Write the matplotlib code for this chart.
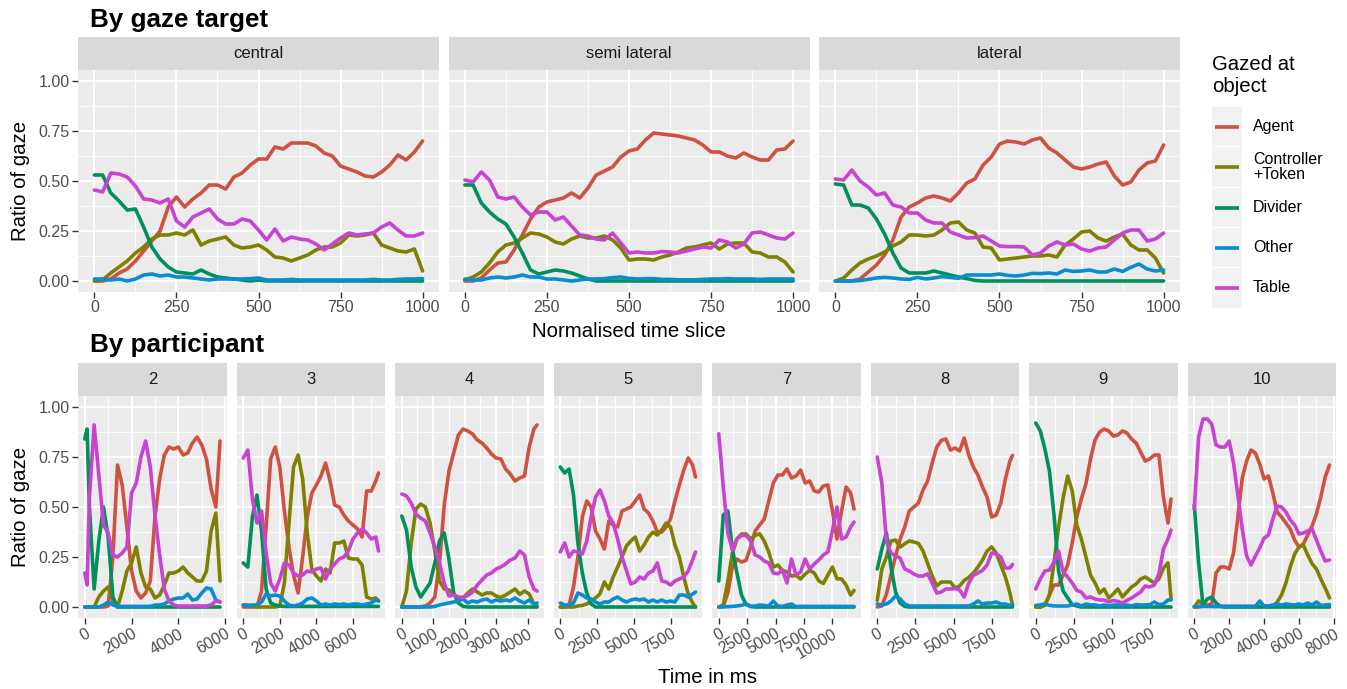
import matplotlib
matplotlib.use("Agg")
import matplotlib.pyplot as plt

plt.rcParams['font.family'] = ['Liberation Sans', 'DejaVu Sans']

# ---------------- DATA ----------------
objects = ["Agent", "Controller\n+Token", "Divider", "Other", "Table"]
gaze_targets = ["central", "semi lateral", "lateral"]
participants = ["2", "3", "4", "5", "7", "8", "9", "10"]

slices = [0, 25, 50, 75, 100, 125, 150, 175, 200, 225, 250, 275, 300, 325, 350, 375, 400,
          425, 450, 475, 500, 525, 550, 575, 600, 625, 650, 675, 700, 725, 750, 775, 800,
          825, 850, 875, 900, 925, 950, 975, 1000]

central_agent = [0, 0, 0.01, 0.04, 0.06, 0.10, 0.15, 0.20, 0.25, 0.37, 0.42, 0.37, 0.41, 0.44, 0.48, 0.48, 0.46,
                 0.52, 0.54, 0.58, 0.61, 0.61, 0.67, 0.66, 0.69, 0.69, 0.69, 0.675, 0.64, 0.625, 0.575, 0.56,
                 0.545, 0.525, 0.52, 0.545, 0.58, 0.63, 0.605, 0.645, 0.70]
central_ctrl = [0, 0.005, 0.04, 0.07, 0.10, 0.14, 0.17, 0.21, 0.23, 0.23, 0.24, 0.23, 0.255, 0.18, 0.20, 0.21,
                0.22, 0.18, 0.165, 0.17, 0.18, 0.155, 0.12, 0.115, 0.10, 0.115, 0.13, 0.155, 0.17, 0.17, 0.19,
                0.23, 0.225, 0.23, 0.24, 0.18, 0.165, 0.15, 0.145, 0.16, 0.05]
central_div = [0.53, 0.53, 0.44, 0.40, 0.355, 0.36, 0.27, 0.17, 0.11, 0.07, 0.045, 0.04, 0.035, 0.055, 0.035,
               0.02, 0.015, 0.01, 0.005, 0, 0.005, 0, 0, 0, 0, 0, 0, 0, 0, 0, 0, 0, 0, 0, 0, 0, 0, 0, 0, 0, 0]
central_other = [0.01, 0.01, 0.005, 0.01, 0, 0.01, 0.03, 0.035, 0.025, 0.03, 0.02, 0.02, 0.015, 0.01, 0.005,
                 0.01, 0.01, 0.01, 0.01, 0.012, 0.015, 0.005, 0.005, 0.005, 0.008, 0.005, 0.005, 0.005, 0.005,
                 0.005, 0.005, 0.005, 0.005, 0.005, 0.008, 0.005, 0.005, 0.008, 0.01, 0.01, 0.012]
central_table = [0.455, 0.445, 0.54, 0.535, 0.52, 0.475, 0.41, 0.405, 0.39, 0.41, 0.30, 0.27, 0.32, 0.34, 0.36,
                 0.31, 0.285, 0.285, 0.31, 0.30, 0.255, 0.205, 0.26, 0.20, 0.22, 0.21, 0.205, 0.185, 0.155,
                 0.185, 0.215, 0.24, 0.23, 0.235, 0.24, 0.27, 0.29, 0.255, 0.225, 0.225, 0.24]

semi_agent = [0, 0, 0.015, 0.055, 0.09, 0.095, 0.155, 0.23, 0.31, 0.37, 0.395, 0.405, 0.415, 0.44, 0.415, 0.465,
              0.53, 0.55, 0.57, 0.62, 0.65, 0.66, 0.705, 0.74, 0.735, 0.73, 0.725, 0.715, 0.705, 0.68, 0.645,
              0.645, 0.625, 0.615, 0.64, 0.62, 0.605, 0.605, 0.655, 0.66, 0.70]
semi_ctrl = [0.005, 0.02, 0.045, 0.09, 0.145, 0.18, 0.19, 0.215, 0.24, 0.235, 0.22, 0.195, 0.185, 0.21, 0.225,
             0.215, 0.215, 0.225, 0.205, 0.165, 0.105, 0.11, 0.11, 0.105, 0.12, 0.13, 0.145, 0.165, 0.17, 0.18,
             0.19, 0.16, 0.185, 0.19, 0.19, 0.145, 0.14, 0.12, 0.12, 0.095, 0.045]
semi_div = [0.48, 0.48, 0.39, 0.345, 0.31, 0.285, 0.22, 0.14, 0.055, 0.035, 0.045, 0.055, 0.05, 0.04, 0.025,
            0.01, 0, 0, 0, 0, 0, 0, 0, 0, 0, 0, 0, 0, 0, 0, 0, 0, 0, 0, 0, 0, 0, 0, 0, 0, 0]
semi_other = [0.01, 0.005, 0.005, 0.015, 0.02, 0.015, 0.02, 0.03, 0.02, 0.02, 0.01, 0.01, 0.005, 0.0, 0.005,
              0.01, 0.01, 0.012, 0.017, 0.02, 0.013, 0.01, 0.012, 0.012, 0.008, 0.008, 0.006, 0.006, 0.006,
              0.008, 0.01, 0.01, 0.012, 0.01, 0.01, 0.01, 0.008, 0.01, 0.01, 0.01, 0.01]
semi_table = [0.505, 0.495, 0.545, 0.505, 0.42, 0.41, 0.42, 0.37, 0.33, 0.345, 0.345, 0.305, 0.32, 0.275, 0.23,
              0.225, 0.21, 0.205, 0.24, 0.19, 0.14, 0.145, 0.14, 0.14, 0.147, 0.145, 0.14, 0.15, 0.16, 0.17,
              0.165, 0.205, 0.195, 0.165, 0.185, 0.24, 0.245, 0.23, 0.215, 0.21, 0.24]

lateral_agent = [0, 0, 0, 0.01, 0.045, 0.08, 0.13, 0.205, 0.32, 0.37, 0.39, 0.415, 0.425, 0.415, 0.40, 0.44,
                 0.49, 0.51, 0.58, 0.62, 0.685, 0.70, 0.695, 0.685, 0.705, 0.715, 0.665, 0.64, 0.605, 0.57,
                 0.56, 0.57, 0.585, 0.595, 0.525, 0.48, 0.495, 0.555, 0.59, 0.60, 0.68]
lateral_ctrl = [0, 0.015, 0.055, 0.09, 0.11, 0.125, 0.145, 0.175, 0.195, 0.23, 0.23, 0.225, 0.23, 0.255, 0.29,
                0.295, 0.255, 0.24, 0.17, 0.165, 0.105, 0.11, 0.115, 0.12, 0.125, 0.125, 0.13, 0.12, 0.18, 0.21,
                0.245, 0.25, 0.215, 0.2, 0.22, 0.235, 0.18, 0.155, 0.155, 0.115, 0.04]
lateral_div = [0.485, 0.48, 0.38, 0.38, 0.365, 0.31, 0.235, 0.14, 0.065, 0.04, 0.04, 0.04, 0.05, 0.04, 0.03,
               0.02, 0.012, 0.003, 0, 0, 0, 0, 0, 0, 0, 0, 0, 0, 0, 0, 0, 0, 0, 0, 0, 0, 0, 0, 0, 0, 0]
lateral_other = [0, 0, 0, 0.002, 0.008, 0.015, 0.018, 0.015, 0.01, 0.008, 0.018, 0.01, 0.015, 0.022, 0.018,
                 0.013, 0.03, 0.03, 0.03, 0.03, 0.035, 0.028, 0.025, 0.03, 0.038, 0.037, 0.04, 0.035, 0.055,
                 0.048, 0.05, 0.055, 0.045, 0.045, 0.06, 0.048, 0.068, 0.085, 0.06, 0.05, 0.055]
lateral_table = [0.51, 0.505, 0.555, 0.50, 0.47, 0.43, 0.44, 0.38, 0.37, 0.34, 0.34, 0.305, 0.29, 0.29, 0.245,
                 0.23, 0.215, 0.217, 0.225, 0.20, 0.175, 0.172, 0.172, 0.17, 0.13, 0.14, 0.175, 0.195, 0.18,
                 0.185, 0.16, 0.15, 0.165, 0.17, 0.205, 0.24, 0.255, 0.255, 0.20, 0.21, 0.24]

# participant 2
p2_time = [0, 100, 200, 400, 600, 800, 1000, 1200, 1400, 1600, 1800, 2000, 2200, 2400, 2600, 2800, 3000,
           3200, 3400, 3600, 3800, 4000, 4200, 4400, 4600, 4800, 5000, 5200, 5400, 5600, 5780]
p2_agent = [0, 0, 0, 0, 0, 0, 0.005, 0.25, 0.71, 0.61, 0.40, 0.18, 0.08, 0.045, 0.07, 0.13, 0.45, 0.64, 0.76,
            0.80, 0.79, 0.80, 0.76, 0.77, 0.82, 0.85, 0.81, 0.74, 0.59, 0.50, 0.83]
p2_ctrl = [0, 0, 0, 0, 0.05, 0.08, 0.10, 0.03, 0.0, 0.08, 0.18, 0.22, 0.30, 0.17, 0.10, 0.09, 0.045, 0.06,
           0.11, 0.17, 0.17, 0.18, 0.20, 0.17, 0.15, 0.13, 0.13, 0.18, 0.38, 0.47, 0.13]
p2_div = [0.84, 0.89, 0.5, 0.09, 0.33, 0.50, 0.35, 0.05, 0.0, 0, 0, 0, 0, 0, 0, 0, 0, 0, 0, 0, 0, 0, 0, 0, 0,
          0, 0, 0, 0, 0, 0]
p2_other = [0, 0, 0, 0, 0, 0.01, 0.025, 0.01, 0.003, 0.003, 0.003, 0.003, 0.003, 0.003, 0.003, 0.003, 0.01,
            0.01, 0.015, 0.03, 0.04, 0.045, 0.045, 0.065, 0.035, 0.04, 0.07, 0.095, 0.09, 0.035, 0.025]
p2_table = [0.17, 0.11, 0.55, 0.91, 0.66, 0.41, 0.37, 0.26, 0.25, 0.27, 0.30, 0.57, 0.62, 0.75, 0.83, 0.70,
            0.46, 0.26, 0.09, 0.03, 0.01, 0.005, 0.005, 0.005, 0.005, 0.005, 0.005, 0.005, 0.01, 0.03, 0.025]

# participant 3
p3_time = [0, 250, 500, 750, 1000, 1250, 1500, 1750, 2000, 2250, 2500, 2750, 3000, 3250, 3500, 3750, 4000,
           4250, 4500, 4750, 5000, 5250, 5500, 5750, 6000, 6250, 6500, 6750, 7000, 7250, 7400]
p3_agent = [0, 0, 0, 0, 0.08, 0.40, 0.74, 0.80, 0.70, 0.48, 0.30, 0.16, 0.07, 0.25, 0.45, 0.57, 0.61, 0.655,
            0.72, 0.63, 0.51, 0.50, 0.46, 0.43, 0.41, 0.39, 0.35, 0.58, 0.58, 0.63, 0.67]
p3_ctrl = [0.01, 0.01, 0.005, 0, 0, 0, 0, 0, 0.005, 0.12, 0.42, 0.70, 0.76, 0.64, 0.37, 0.19, 0.155, 0.13,
           0.19, 0.17, 0.32, 0.32, 0.33, 0.245, 0.24, 0.24, 0.21, 0.05, 0.04, 0.045, 0.03]
p3_div = [0.22, 0.2, 0.45, 0.56, 0.38, 0.09, 0.02, 0.01, 0.005, 0.003, 0.003, 0.003, 0.003, 0.003, 0.003,
          0.003, 0.003, 0.003, 0.003, 0.003, 0.003, 0.003, 0.003, 0.003, 0.003, 0.003, 0.003, 0.003, 0.003,
          0.003, 0.003]
p3_other = [0.01, 0.005, 0.01, 0.01, 0.025, 0.065, 0.055, 0.06, 0.055, 0.03, 0.01, 0.005, 0.01, 0.02, 0.04,
            0.045, 0.03, 0.01, 0.015, 0.01, 0.015, 0.012, 0.015, 0.01, 0.015, 0.015, 0.01, 0.015, 0.02, 0.035,
            0.03]
p3_table = [0.745, 0.785, 0.54, 0.42, 0.48, 0.27, 0.12, 0.08, 0.14, 0.22, 0.21, 0.17, 0.155, 0.16, 0.18, 0.175,
            0.19, 0.195, 0.14, 0.19, 0.215, 0.24, 0.25, 0.28, 0.34, 0.37, 0.39, 0.37, 0.34, 0.35, 0.28]

# participant 4
p4_time = [0, 150, 300, 450, 600, 750, 900, 1050, 1200, 1350, 1500, 1650, 1800, 1950, 2100, 2250, 2400, 2550,
           2700, 2850, 3000, 3150, 3300, 3450, 3600, 3750, 3900, 4050, 4200, 4300]
p4_agent = [0, 0, 0, 0, 0, 0.005, 0.02, 0.05, 0.22, 0.51, 0.68, 0.77, 0.86, 0.89, 0.88, 0.865, 0.835, 0.82,
            0.795, 0.765, 0.745, 0.74, 0.69, 0.665, 0.63, 0.645, 0.655, 0.80, 0.89, 0.91]
p4_ctrl = [0, 0.08, 0.32, 0.49, 0.515, 0.5, 0.42, 0.28, 0.13, 0.09, 0.085, 0.065, 0.04, 0.045, 0.07, 0.09,
           0.075, 0.06, 0.07, 0.07, 0.055, 0.048, 0.06, 0.075, 0.09, 0.063, 0.08, 0.065, 0.015, 0.005]
p4_div = [0.455, 0.385, 0.2, 0.10, 0.05, 0.085, 0.12, 0.22, 0.33, 0.37, 0.24, 0.07, 0.02, 0.003, 0, 0, 0, 0,
          0, 0, 0, 0, 0, 0, 0, 0, 0, 0, 0, 0]
p4_other = [0, 0, 0, 0, 0, 0, 0, 0.003, 0.01, 0.015, 0.02, 0.025, 0.03, 0.04, 0.02, 0.03, 0.025, 0.035, 0.04,
            0.025, 0.035, 0.03, 0.035, 0.03, 0.045, 0.03, 0.02, 0.035, 0.015, 0.02]
p4_table = [0.565, 0.555, 0.52, 0.465, 0.445, 0.43, 0.37, 0.30, 0.22, 0.12, 0.055, 0.06, 0.05, 0.048, 0.058,
            0.075, 0.11, 0.135, 0.16, 0.17, 0.19, 0.2, 0.215, 0.235, 0.245, 0.28, 0.26, 0.15, 0.09, 0.08]

# participant 5
p5_time = [0, 300, 600, 900, 1200, 1500, 1800, 2100, 2400, 2700, 3000, 3300, 3600, 3900, 4200, 4500, 4800,
           5100, 5400, 5700, 6000, 6300, 6600, 6900, 7200, 7500, 7800, 8100, 8400, 8700, 9000, 9200]
p5_agent = [0, 0, 0.01, 0.10, 0.25, 0.45, 0.53, 0.50, 0.38, 0.34, 0.29, 0.43, 0.41, 0.40, 0.48, 0.49, 0.50,
            0.53, 0.56, 0.49, 0.47, 0.43, 0.375, 0.375, 0.40, 0.44, 0.53, 0.61, 0.685, 0.745, 0.71, 0.65]
p5_ctrl = [0, 0, 0, 0, 0.005, 0.008, 0.015, 0.03, 0.045, 0.066, 0.125, 0.09, 0.15, 0.20, 0.25, 0.305, 0.33,
           0.35, 0.28, 0.31, 0.35, 0.374, 0.36, 0.385, 0.42, 0.40, 0.31, 0.25, 0.15, 0.065, 0.02, 0.0]
p5_div = [0.70, 0.67, 0.69, 0.56, 0.32, 0.17, 0.07, 0.015, 0, 0, 0, 0, 0, 0, 0, 0, 0, 0, 0, 0, 0, 0, 0, 0, 0,
          0, 0, 0, 0, 0, 0, 0]
p5_other = [0.02, 0.01, 0.01, 0.02, 0.07, 0.06, 0.045, 0.04, 0.025, 0.015, 0.025, 0.025, 0.04, 0.05, 0.035,
            0.025, 0.035, 0.04, 0.035, 0.04, 0.025, 0.035, 0.025, 0.035, 0.025, 0.03, 0.025, 0.06, 0.06, 0.05,
            0.065, 0.075]
p5_table = [0.275, 0.32, 0.25, 0.28, 0.275, 0.265, 0.33, 0.45, 0.55, 0.585, 0.53, 0.455, 0.42, 0.34, 0.25,
            0.183, 0.115, 0.125, 0.15, 0.14, 0.17, 0.18, 0.22, 0.13, 0.125, 0.11, 0.13, 0.14, 0.15, 0.18, 0.235,
            0.275]

# participant 7
p7_time = [0, 400, 800, 1200, 1600, 2000, 2400, 2800, 3200, 3600, 4000, 4400, 4800, 5200, 5600, 6000, 6400,
           6800, 7200, 7600, 8000, 8400, 8800, 9200, 9600, 10000, 10400, 10800, 11200, 11600, 11900]
p7_agent = [0, 0.005, 0.07, 0.2, 0.24, 0.225, 0.233, 0.30, 0.38, 0.41, 0.44, 0.53, 0.62, 0.66, 0.66, 0.69,
            0.645, 0.655, 0.685, 0.62, 0.63, 0.58, 0.575, 0.605, 0.61, 0.48, 0.34, 0.48, 0.60, 0.57, 0.49]
p7_ctrl = [0, 0.01, 0.13, 0.27, 0.34, 0.365, 0.365, 0.34, 0.358, 0.366, 0.33, 0.275, 0.2, 0.21, 0.183, 0.175,
           0.155, 0.158, 0.14, 0.165, 0.183, 0.17, 0.13, 0.118, 0.16, 0.2, 0.141, 0.14, 0.11, 0.06, 0.083]
p7_div = [0.13, 0.46, 0.48, 0.29, 0.17, 0.06, 0.012, 0.003, 0, 0, 0, 0, 0, 0, 0, 0, 0, 0, 0, 0, 0, 0, 0, 0, 0,
          0, 0, 0, 0, 0, 0]
p7_other = [0, 0, 0.002, 0.003, 0.005, 0.008, 0.017, 0.003, 0.005, 0.01, 0.008, 0.005, 0.03, 0.005, 0.003,
            0.01, 0.015, 0.002, 0.003, 0.003, 0.003, 0.003, 0.003, 0.003, 0.003, 0.003, 0.003, 0.003, 0.003,
            0.003, 0.003]
p7_table = [0.866, 0.60, 0.37, 0.285, 0.34, 0.358, 0.358, 0.33, 0.26, 0.25, 0.23, 0.22, 0.17, 0.166, 0.185,
            0.12, 0.24, 0.16, 0.175, 0.24, 0.19, 0.215, 0.235, 0.26, 0.275, 0.383, 0.50, 0.34, 0.35, 0.40, 0.425]

# participant 8
p8_time = [0, 300, 600, 900, 1200, 1500, 1800, 2100, 2400, 2700, 3000, 3300, 3600, 3900, 4200, 4500, 4800,
           5100, 5400, 5700, 6000, 6300, 6600, 6900, 7200, 7500, 7800, 8100, 8400, 8700, 8870]
p8_agent = [0, 0.005, 0.065, 0.16, 0.255, 0.34, 0.40, 0.48, 0.50, 0.52, 0.585, 0.63, 0.72, 0.80, 0.833, 0.84,
            0.785, 0.795, 0.78, 0.845, 0.76, 0.70, 0.66, 0.60, 0.55, 0.45, 0.46, 0.52, 0.64, 0.73, 0.758]
p8_ctrl = [0.033, 0.19, 0.25, 0.33, 0.335, 0.30, 0.316, 0.33, 0.325, 0.318, 0.28, 0.218, 0.155, 0.105, 0.125,
           0.125, 0.125, 0.095, 0.105, 0.133, 0.148, 0.17, 0.20, 0.235, 0.28, 0.30, 0.27, 0.21, 0.15, 0.07,
           0.008]
p8_div = [0.19, 0.29, 0.37, 0.2, 0.075, 0.02, 0.003, 0, 0, 0, 0, 0, 0, 0, 0, 0, 0, 0, 0, 0, 0, 0, 0, 0, 0, 0,
          0, 0, 0, 0, 0]
p8_other = [0.015, 0.01, 0.015, 0.03, 0.055, 0.04, 0.015, 0.005, 0.005, 0.005, 0.005, 0.005, 0.005, 0.005,
            0.005, 0.005, 0.005, 0.005, 0.005, 0.005, 0.005, 0.015, 0.03, 0.015, 0.02, 0.02, 0.025, 0.015, 0.015,
            0.008, 0.012]
p8_table = [0.75, 0.62, 0.33, 0.27, 0.255, 0.245, 0.19, 0.18, 0.165, 0.155, 0.155, 0.166, 0.12, 0.07, 0.075,
            0.09, 0.09, 0.092, 0.085, 0.05, 0.12, 0.158, 0.17, 0.183, 0.21, 0.27, 0.265, 0.25, 0.195, 0.195,
            0.213]

# participant 9
p9_time = [0, 300, 600, 900, 1200, 1500, 1800, 2100, 2400, 2700, 3000, 3300, 3600, 3900, 4200, 4500, 4800,
           5100, 5400, 5700, 6000, 6300, 6600, 6900, 7200, 7500, 7800, 8100, 8400, 8700, 8900]
p9_agent = [0, 0, 0.01, 0.06, 0.11, 0.11, 0.16, 0.21, 0.32, 0.45, 0.54, 0.616, 0.74, 0.835, 0.875, 0.89, 0.88,
            0.855, 0.86, 0.88, 0.87, 0.84, 0.82, 0.775, 0.73, 0.74, 0.76, 0.76, 0.55, 0.42, 0.54]
p9_ctrl = [0, 0, 0.008, 0.06, 0.22, 0.40, 0.545, 0.655, 0.58, 0.41, 0.34, 0.25, 0.16, 0.12, 0.07, 0.09, 0.045,
           0.065, 0.09, 0.05, 0.075, 0.1, 0.115, 0.14, 0.15, 0.135, 0.12, 0.14, 0.195, 0.22, 0.04]
p9_div = [0.92, 0.88, 0.79, 0.68, 0.46, 0.18, 0.08, 0.045, 0.012, 0.005, 0, 0, 0, 0, 0, 0, 0, 0, 0, 0, 0, 0, 0,
          0, 0, 0, 0, 0, 0, 0, 0]
p9_other = [0.008, 0.01, 0.015, 0.008, 0.005, 0.005, 0.005, 0.005, 0.01, 0.015, 0.005, 0.015, 0.01, 0.01,
            0.005, 0.01, 0.005, 0.01, 0.01, 0.005, 0.01, 0.005, 0.012, 0.01, 0.01, 0.012, 0.025, 0.012, 0.015,
            0.035, 0.035]
p9_table = [0.09, 0.14, 0.18, 0.185, 0.225, 0.28, 0.175, 0.15, 0.12, 0.083, 0.075, 0.045, 0.05, 0.04, 0.035,
            0.035, 0.025, 0.033, 0.028, 0.02, 0.033, 0.045, 0.06, 0.075, 0.105, 0.1, 0.11, 0.165, 0.29, 0.34,
            0.385]

# participant 10
p10_time = [0, 250, 500, 750, 1000, 1250, 1500, 1750, 2000, 2250, 2500, 2750, 3000, 3250, 3500, 3750, 4000,
            4250, 4500, 4750, 5000, 5250, 5500, 5750, 6000, 6250, 6500, 6750, 7000, 7250, 7500, 7750]
p10_agent = [0, 0, 0.005, 0.01, 0.015, 0.17, 0.2, 0.2, 0.19, 0.27, 0.45, 0.645, 0.73, 0.785, 0.77, 0.715, 0.64,
             0.655, 0.57, 0.475, 0.45, 0.42, 0.39, 0.335, 0.30, 0.315, 0.36, 0.405, 0.466, 0.55, 0.65, 0.71]
p10_ctrl = [0, 0.03, 0.015, 0.005, 0.003, 0.003, 0.003, 0.003, 0.003, 0.003, 0.003, 0.003, 0.003, 0.003, 0.003,
            0.003, 0.003, 0.003, 0.003, 0.025, 0.06, 0.12, 0.2, 0.265, 0.30, 0.31, 0.26, 0.216, 0.19, 0.14,
            0.095, 0.045]
p10_div = [0.51, 0.22, 0.01, 0.04, 0.05, 0.02, 0.003, 0, 0, 0, 0, 0, 0, 0, 0, 0, 0, 0, 0, 0, 0, 0, 0, 0, 0, 0,
           0, 0, 0, 0, 0, 0]
p10_other = [0.003, 0.003, 0.003, 0.003, 0.003, 0.003, 0.003, 0.003, 0.003, 0.003, 0.003, 0.003, 0.003, 0.003,
             0.003, 0.03, 0.005, 0.005, 0.01, 0.015, 0.01, 0.015, 0.012, 0.01, 0.015, 0.01, 0.02, 0.01, 0.025,
             0.008, 0.01, 0.012]
p10_table = [0.49, 0.85, 0.94, 0.94, 0.915, 0.81, 0.80, 0.80, 0.83, 0.72, 0.56, 0.39, 0.255, 0.21, 0.255,
             0.295, 0.345, 0.36, 0.44, 0.505, 0.50, 0.475, 0.435, 0.41, 0.365, 0.37, 0.38, 0.39, 0.335, 0.28,
             0.23, 0.235]

# ---------------- STYLE ----------------
colors = ["#CD5241", "#808000", "#00915A", "#0A8CD2", "#C843D2"]
PANEL_BG = "#EBEBEB"
STRIP_BG = "#D9D9D9"
TICK_TXT = "#4D4D4D"
LW = 2.6

W, H = 1347, 689
fig = plt.figure(figsize=(W / 100, H / 100), dpi=100)


def px_axes(x0, y0, w, h):
    return fig.add_axes([x0 / W, 1 - (y0 + h) / H, w / W, h / H])


def make_panel(x0, y_strip, strip_h, plot_h, w, label, times, series, xlim, xmaj, xmin,
               show_y, rotate):
    sax = px_axes(x0, y_strip, w, strip_h)
    sax.set_facecolor(STRIP_BG)
    sax.set_xticks([]); sax.set_yticks([])
    for s in sax.spines.values():
        s.set_visible(False)
    sax.text(0.5, 0.5, label, ha='center', va='center', fontsize=12, color='#1A1A1A',
             transform=sax.transAxes)

    ax = px_axes(x0, y_strip + strip_h, w, plot_h)
    ax.set_facecolor(PANEL_BG)
    for s in ax.spines.values():
        s.set_visible(False)
    ax.set_xlim(*xlim)
    ax.set_ylim(-0.055, 1.055)
    ax.set_xticks(xmaj)
    ax.set_xticks(xmin, minor=True)
    ax.set_yticks([0, 0.25, 0.5, 0.75, 1.0])
    ax.set_yticks([0.125, 0.375, 0.625, 0.875], minor=True)
    ax.grid(which='major', color='white', linewidth=1.3)
    ax.grid(which='minor', color='white', linewidth=0.6)
    ax.set_axisbelow(True)
    ax.tick_params(which='minor', length=0)
    ax.tick_params(which='major', length=4, width=1.0, color='#333333', labelcolor=TICK_TXT,
                   labelsize=11.5, pad=2)
    if show_y:
        ax.set_yticklabels(['0.00', '0.25', '0.50', '0.75', '1.00'])
    else:
        ax.tick_params(axis='y', which='both', length=0, labelleft=False)
    labels = [str(int(v)) for v in xmaj]
    if rotate:
        ax.set_xticklabels(labels, rotation=30, ha='right', va='top', rotation_mode='anchor')
    else:
        ax.set_xticklabels(labels)
    for vals, c in zip(series, colors):
        ax.plot(times, vals, color=c, lw=LW, solid_joinstyle='round', solid_capstyle='round')
    return ax


# ---- top row ----
top_series = [
    [central_agent, central_ctrl, central_div, central_other, central_table],
    [semi_agent, semi_ctrl, semi_div, semi_other, semi_table],
    [lateral_agent, lateral_ctrl, lateral_div, lateral_other, lateral_table],
]
for i, (lab, ser) in enumerate(zip(gaze_targets, top_series)):
    make_panel(78 + i * 370.5, 37, 33, 222, 361, lab, slices, ser, (-50, 1050),
               [0, 250, 500, 750, 1000], [125, 375, 625, 875], i == 0, False)

# ---- bottom row ----
bottom = [
    (p2_time, [p2_agent, p2_ctrl, p2_div, p2_other, p2_table], [0, 2000, 4000, 6000], [1000, 3000, 5000]),
    (p3_time, [p3_agent, p3_ctrl, p3_div, p3_other, p3_table], [0, 2000, 4000, 6000], [1000, 3000, 5000, 7000]),
    (p4_time, [p4_agent, p4_ctrl, p4_div, p4_other, p4_table], [0, 1000, 2000, 3000, 4000], [500, 1500, 2500, 3500]),
    (p5_time, [p5_agent, p5_ctrl, p5_div, p5_other, p5_table], [0, 2500, 5000, 7500], [1250, 3750, 6250, 8750]),
    (p7_time, [p7_agent, p7_ctrl, p7_div, p7_other, p7_table], [0, 2500, 5000, 7500, 10000],
     [1250, 3750, 6250, 8750, 11250]),
    (p8_time, [p8_agent, p8_ctrl, p8_div, p8_other, p8_table], [0, 2500, 5000, 7500], [1250, 3750, 6250, 8750]),
    (p9_time, [p9_agent, p9_ctrl, p9_div, p9_other, p9_table], [0, 2500, 5000, 7500], [1250, 3750, 6250, 8750]),
    (p10_time, [p10_agent, p10_ctrl, p10_div, p10_other, p10_table], [0, 2000, 4000, 6000, 8000],
     [1000, 3000, 5000, 7000]),
]
for i, (lab, (times, ser, xmaj, xmin)) in enumerate(zip(participants, bottom)):
    tmax = times[-1]
    make_panel(78 + i * 158.5, 363, 33, 222, 148.8, lab, times, ser,
               (-0.05 * tmax, 1.05 * tmax), xmaj, xmin, i == 0, True)

# ---- titles and axis labels ----
fig.text(90 / W, 1 - 27 / H, "By gaze target", fontsize=18.7, fontweight='bold', va='baseline', ha='left')
fig.text(90 / W, 1 - 352 / H, "By participant", fontsize=18.7, fontweight='bold', va='baseline', ha='left')
fig.text(629 / W, 1 - 337 / H, "Normalised time slice", fontsize=14.7, va='baseline', ha='center')
fig.text(707 / W, 1 - 683 / H, "Time in ms", fontsize=14.7, va='baseline', ha='center')
fig.text(21 / W, 1 - 181 / H, "Ratio of gaze", fontsize=14.7, rotation=90, va='center', ha='center')
fig.text(21 / W, 1 - 507 / H, "Ratio of gaze", fontsize=14.7, rotation=90, va='center', ha='center')

# ---- legend (pixel coordinates overlay) ----
lax = fig.add_axes([0, 0, 1, 1], facecolor='none')
lax.set_xlim(0, W)
lax.set_ylim(H, 0)
lax.axis('off')
lax.text(1212, 64, "Gazed at", fontsize=14.7, va='center', ha='left')
lax.text(1212, 86, "object", fontsize=14.7, va='center', ha='left')
rows = [(107, 146), (147, 187), (188, 227), (228, 267), (268, 308)]
for (y0, y1), name, c in zip(rows, objects, colors):
    lax.add_patch(plt.Rectangle((1212, y0), 30, y1 - y0, facecolor='#F2F2F2', edgecolor='none'))
    yc = (y0 + y1) / 2
    lax.plot([1215, 1239], [yc, yc], color=c, lw=LW, solid_capstyle='butt')
    lax.text(1253, yc, name, fontsize=11.5, va='center', ha='left', linespacing=1.0)

fig.savefig("out.png", dpi=100)
